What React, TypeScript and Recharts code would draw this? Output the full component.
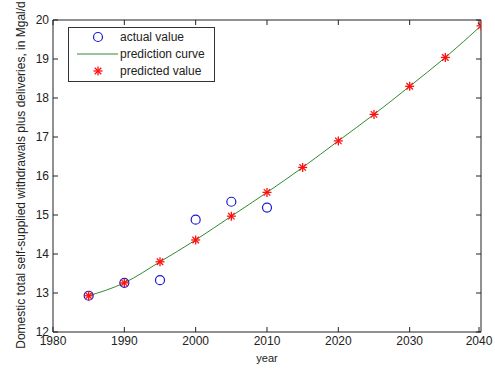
import React from "react";
import { ComposedChart, Line, Scatter, XAxis, YAxis } from "recharts";

const actualYears = [1985, 1990, 1995, 2000, 2005, 2010];
const actualValues = [12.93, 13.26, 13.33, 14.88, 15.34, 15.19];

const predictedYears = [1985, 1990, 1995, 2000, 2005, 2010, 2015, 2020, 2025, 2030, 2035, 2040];
const predictedValues = [12.93, 13.26, 13.8, 14.36, 14.97, 15.58, 16.22, 16.9, 17.58, 18.3, 19.04, 19.85];

const xTicks = [1980, 1990, 2000, 2010, 2020, 2030, 2040];
const yTicks = [12, 13, 14, 15, 16, 17, 18, 19, 20];

const actualData = actualYears.map((year, i) => ({ year, value: actualValues[i] }));
const predictedData = predictedYears.map((year, i) => ({ year, value: predictedValues[i] }));

const FONT = "'Liberation Sans', Arial, sans-serif";
const BLUE = "#1a1ad0";
const RED = "#ff1010";
const GREEN = "#2e8b2e";
const INK = "#222";

const Circle = (props: any) => {
  const { cx, cy } = props;
  return <circle cx={cx} cy={cy} r={4.5} fill="none" stroke={BLUE} strokeWidth={1.2} />;
};

const Star = (props: any) => {
  const { cx, cy } = props;
  const r = 4.5;
  const d = r * 0.72;
  return (
    <g stroke={RED} strokeWidth={1.3}>
      <line x1={cx - r} y1={cy} x2={cx + r} y2={cy} />
      <line x1={cx} y1={cy - r} x2={cx} y2={cy + r} />
      <line x1={cx - d} y1={cy - d} x2={cx + d} y2={cy + d} />
      <line x1={cx - d} y1={cy + d} x2={cx + d} y2={cy - d} />
    </g>
  );
};

const BottomTick = (props: any) => {
  const { x, y, payload } = props;
  return (
    <g>
      <line x1={x} y1={y} x2={x} y2={y - 5} stroke={INK} />
      <text x={x} y={y + 13} textAnchor="middle" fontSize={12} fill={INK} fontFamily={FONT}>
        {payload.value}
      </text>
    </g>
  );
};

const LeftTick = (props: any) => {
  const { x, y, payload } = props;
  return (
    <g>
      <line x1={x} y1={y} x2={x + 5} y2={y} stroke={INK} />
      <text x={x - 4} y={y + 4} textAnchor="end" fontSize={12} fill={INK} fontFamily={FONT}>
        {payload.value}
      </text>
    </g>
  );
};

const TopTick = (props: any) => {
  const { x, y } = props;
  return <line x1={x} y1={y} x2={x} y2={y + 5} stroke={INK} />;
};

const RightTick = (props: any) => {
  const { x, y } = props;
  return <line x1={x} y1={y} x2={x - 5} y2={y} stroke={INK} />;
};

const LegendBox = () => (
  <svg width={148} height={56} style={{ position: "absolute", left: 68, top: 27 }}>
    <rect x={0.5} y={0.5} width={146} height={54} fill="#fff" stroke="#333" />
    <Circle cx={30} cy={10} />
    <line x1={9} y1={27} x2={50} y2={27} stroke={GREEN} strokeWidth={1} />
    <Star cx={30} cy={44} />
    <text x={52} y={14} fontSize={12} fill={INK} fontFamily={FONT}>actual value</text>
    <text x={52} y={31} fontSize={12} fill={INK} fontFamily={FONT}>prediction curve</text>
    <text x={52} y={48} fontSize={12} fill={INK} fontFamily={FONT}>predicted value</text>
  </svg>
);

export default function App() {
  return (
    <div style={{ position: "absolute", left: 0, top: 0, width: 495, height: 369, background: "#fff" }}>
      <ComposedChart width={495} height={369} margin={{ top: 19, right: 13, bottom: 7, left: 0 }}>
        <XAxis
          dataKey="year"
          type="number"
          domain={[1980, 2040]}
          ticks={xTicks}
          height={30}
          tickSize={0}
          tickMargin={0}
          tickLine={false}
          tick={<BottomTick />}
          stroke={INK}
          allowDataOverflow
        />
        <XAxis
          xAxisId="top"
          dataKey="year"
          orientation="top"
          type="number"
          domain={[1980, 2040]}
          ticks={xTicks}
          height={1}
          tickSize={0}
          tickMargin={0}
          tickLine={false}
          tick={<TopTick />}
          stroke={INK}
          allowDataOverflow
        />
        <YAxis
          type="number"
          domain={[12, 20]}
          ticks={yTicks}
          width={53}
          tickSize={0}
          tickMargin={0}
          tickLine={false}
          tick={<LeftTick />}
          stroke={INK}
          allowDataOverflow
        />
        <YAxis
          yAxisId="right"
          orientation="right"
          type="number"
          domain={[12, 20]}
          ticks={yTicks}
          width={1}
          tickSize={0}
          tickMargin={0}
          tickLine={false}
          tick={<RightTick />}
          stroke={INK}
          allowDataOverflow
        />
        {/* hidden series so the top / right box axes get drawn */}
        <Line
          data={predictedData}
          xAxisId="top"
          yAxisId="right"
          dataKey="value"
          stroke="none"
          dot={false}
          isAnimationActive={false}
          legendType="none"
        />
        <Line
          data={predictedData}
          dataKey="value"
          type="monotone"
          stroke={GREEN}
          strokeWidth={1}
          dot={false}
          isAnimationActive={false}
          legendType="none"
        />
        <Scatter data={actualData} dataKey="value" shape={<Circle />} isAnimationActive={false} legendType="none" />
        <Scatter data={predictedData} dataKey="value" shape={<Star />} isAnimationActive={false} legendType="none" />
      </ComposedChart>
      <LegendBox />
      <svg width={495} height={369} style={{ position: "absolute", left: 0, top: 0, pointerEvents: "none" }}>
        <text
          x={0}
          y={0}
          transform="translate(25, 175) rotate(-90)"
          textAnchor="middle"
          fontSize={12}
          fill={INK}
          fontFamily={FONT}
        >
          Domestic total self-supplied withdrawals plus deliveries, in Mgal/d
        </text>
        <text x={267} y={362} textAnchor="middle" fontSize={11} fill={INK} fontFamily={FONT}>
          year
        </text>
      </svg>
    </div>
  );
}
